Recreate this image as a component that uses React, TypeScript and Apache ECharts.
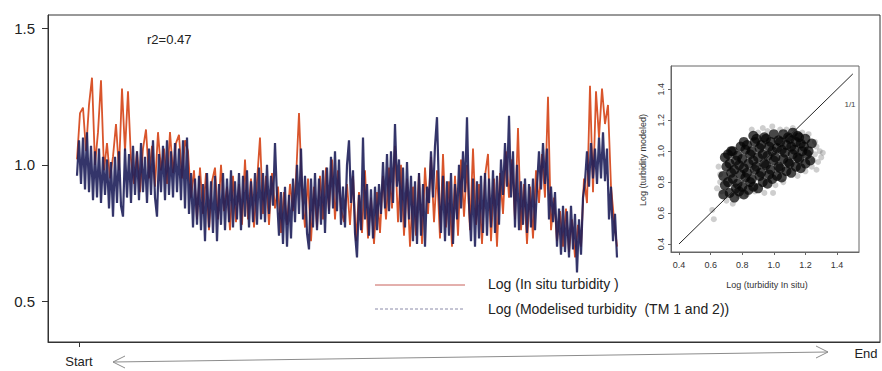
import React, { useEffect, useRef } from "react";
import * as echarts from "echarts";

// In situ series, one value every 3 time units
const inSitu = [
  1.02, 1.19, 1.21, 1.05, 1.22, 1.32, 1.0, 1.12, 1.31, 0.98,
  1.08, 0.95, 1.03, 1.15, 0.98, 1.28, 1.05, 1.27, 1.02, 0.93,
  1.05, 0.9, 1.06, 1.13, 0.95, 1.07, 0.92, 1.12, 0.98, 1.06,
  0.93, 1.12, 0.97, 1.08, 1.11, 0.95, 1.09, 1.05, 0.88, 0.98,
  0.8, 0.99, 0.82, 0.97, 0.76, 0.94, 0.99, 0.8, 1.0, 0.83,
  0.92, 0.76, 0.96, 0.79, 0.93, 0.78, 1.02, 0.8, 0.95, 0.77,
  0.94, 1.1, 0.82, 0.96, 0.78, 0.97, 0.84, 0.92, 0.75, 0.9,
  0.78, 0.93, 0.83, 0.95, 1.19, 0.9, 0.77, 0.95, 0.72, 0.92,
  0.77, 0.96, 0.8, 0.99, 0.83, 1.02, 0.8, 0.98, 0.84, 0.79,
  0.93, 0.78, 0.96, 0.72, 0.9, 0.75, 0.98, 0.73, 0.88, 0.71,
  0.9, 0.75, 0.96, 0.8, 0.99, 0.84, 1.07, 0.79, 1.0, 0.74,
  0.95, 0.7, 0.92, 0.74, 0.97, 0.71, 0.99, 0.82, 1.03, 0.79,
  0.98, 0.73, 1.04, 0.77, 0.94, 0.7, 0.96, 0.74, 1.02, 0.81,
  1.0, 0.76, 1.06, 0.78, 0.93, 0.71, 0.96, 1.04, 0.72, 0.95,
  0.7, 0.97, 0.82, 1.05, 0.88, 1.02, 0.8, 1.135, 0.76, 0.93,
  0.71, 0.92, 0.73, 0.98, 0.86, 1.04, 0.88, 1.25, 0.76, 0.88,
  0.72, 0.83, 0.7, 0.84, 0.68, 0.8, 0.66, 0.78, 0.7, 0.95,
  0.86, 1.29, 0.9, 1.27, 1.1, 1.28, 1.15, 1.22, 0.92, 0.8, 0.7,
];

// Modelled series, one value every 2 time units
const modelled = [
  0.96, 1.09, 0.93, 1.1, 0.91, 1.12, 0.9, 1.07, 0.87, 1.05,
  0.88, 1.06, 0.86, 1.03, 0.89, 1.02, 0.84, 1.01, 0.81, 1.03,
  0.86, 1.05, 0.85, 0.81, 1.06, 0.88, 1.04, 0.86, 1.07, 0.89,
  1.05, 0.87, 1.08, 0.9, 1.03, 0.86, 1.06, 0.89, 1.09, 0.88,
  0.81, 1.04, 0.9, 1.07, 0.87, 1.09, 0.89, 1.05, 0.88, 1.08,
  0.9, 1.06, 0.87, 1.09, 0.84, 1.1, 0.82, 0.97, 0.77, 0.95,
  0.78, 0.96, 0.76, 0.93, 0.72, 0.97, 0.77, 0.94, 0.75, 0.96,
  0.72, 0.93, 0.78, 0.97, 0.76, 0.95, 0.79, 0.98, 0.77, 0.94,
  0.8, 0.97, 0.76, 0.96, 0.81, 0.98, 0.77, 0.94, 0.79, 0.97,
  0.78, 0.99, 0.8, 0.97, 0.79, 1.0, 0.82, 0.96, 0.85, 1.08,
  0.88, 0.74, 0.9, 0.71, 0.92, 0.7, 0.89, 0.73, 0.95, 0.79,
  1.0, 0.82, 1.06, 0.8, 0.96, 0.75, 0.69, 0.95, 0.77, 0.97,
  0.76, 0.95, 0.78, 0.98, 0.75, 0.99, 0.82, 1.03, 0.84, 1.05,
  0.83, 1.02, 0.78, 0.92, 0.77, 1.0, 1.09, 0.86, 0.98, 0.75,
  0.66, 0.89, 0.76, 1.1, 0.8, 0.93, 0.74, 0.91, 0.73, 0.92,
  0.76, 0.93, 0.82, 1.01, 0.84, 1.04, 0.83, 1.05, 0.86, 1.15,
  0.92, 1.02, 0.79, 0.99, 0.77, 1.01, 0.8, 0.96, 0.72, 0.94,
  0.71, 0.97, 0.74, 0.93, 0.7, 0.92, 0.86, 1.05, 0.88, 1.07,
  1.175, 0.9, 0.75, 0.96, 0.72, 0.94, 0.74, 0.97, 0.71, 0.93,
  0.8, 1.0, 0.84, 1.05, 0.9, 1.175, 0.86, 0.72, 0.95, 0.7,
  0.94, 0.73, 0.96, 0.75, 0.97, 0.74, 0.95, 0.77, 0.98, 0.75,
  0.96, 0.78, 1.02, 0.89, 1.08, 0.92, 1.18, 0.88, 1.05, 0.77,
  1.0, 0.76, 0.94, 0.78, 0.95, 0.75, 0.93, 0.77, 0.95, 0.76,
  0.92, 1.05, 0.91, 1.08, 0.93, 1.06, 0.8, 0.92, 0.79, 0.9,
  0.7, 0.84, 0.67, 0.85, 0.68, 0.83, 0.66, 0.85, 0.69, 0.82,
  0.605, 0.8, 0.67, 0.88, 0.94, 1.05, 0.92, 1.08, 0.95, 1.06,
  0.93, 1.1, 0.95, 1.12, 0.94, 1.06, 0.8, 0.92, 0.72, 0.82, 0.66,
];
const inSituStep = 3;
const modelledStep = 2;
const seriesStart = -2;

// Inset scatter: dense core
const coreX = [
  0.68, 0.69, 0.68, 0.7, 0.69,
  0.72, 0.71, 0.73, 0.72, 0.71, 0.73,
  0.75, 0.76, 0.74, 0.75, 0.76, 0.74,
  0.78, 0.77, 0.79, 0.78, 0.77, 0.79,
  0.81, 0.8, 0.82, 0.81, 0.8, 0.82, 0.81,
  0.84, 0.85, 0.83, 0.84, 0.85, 0.83,
  0.87, 0.86, 0.88, 0.87, 0.86, 0.88, 0.87,
  0.9, 0.91, 0.89, 0.9, 0.91, 0.89,
  0.93, 0.92, 0.94, 0.93, 0.92, 0.94,
  0.96, 0.97, 0.95, 0.96, 0.97, 0.95,
  0.99, 0.98, 1.0, 0.99, 0.98, 1.0,
  1.02, 1.03, 1.01, 1.02, 1.03,
  1.05, 1.04, 1.06, 1.05, 1.04, 1.06,
  1.08, 1.09, 1.07, 1.08, 1.09,
  1.11, 1.1, 1.12, 1.11, 1.1, 1.12,
  1.14, 1.15, 1.13, 1.14, 1.15,
  1.17, 1.16, 1.18, 1.17, 1.16,
  1.2, 1.21, 1.19, 1.2,
  1.23, 1.22, 1.24,
];
const coreY = [
  0.72, 0.78, 0.84, 0.9, 0.96,
  0.73, 0.8, 0.86, 0.92, 0.98, 1.0,
  0.7, 0.76, 0.82, 0.88, 0.94, 1.0,
  0.74, 0.79, 0.85, 0.91, 0.97, 1.03,
  0.72, 0.77, 0.83, 0.89, 0.95, 1.01, 1.06,
  0.75, 0.8, 0.86, 0.92, 0.98, 1.04,
  0.77, 0.82, 0.88, 0.94, 1.0, 1.06, 1.1,
  0.76, 0.84, 0.9, 0.96, 1.02, 1.08,
  0.8, 0.86, 0.92, 0.98, 1.04, 1.09,
  0.79, 0.85, 0.91, 0.97, 1.03, 1.08,
  0.82, 0.88, 0.94, 1.0, 1.06, 1.11,
  0.84, 0.9, 0.96, 1.02, 1.07,
  0.83, 0.89, 0.95, 1.01, 1.06, 1.11,
  0.87, 0.93, 0.99, 1.04, 1.09,
  0.86, 0.92, 0.98, 1.03, 1.08, 1.12,
  0.9, 0.96, 1.01, 1.06, 1.1,
  0.89, 0.95, 1.0, 1.05, 1.09,
  0.92, 0.98, 1.03, 1.08,
  0.94, 1.0, 1.05,
];
// Inset scatter: scattered grey fringe and outliers
const outX = [
  1.26, 1.28, 1.3, 1.27, 1.24, 1.29, 0.93, 0.86, 0.99, 1.04, 0.65, 0.66, 0.61, 0.62,
  0.805, 0.995, 0.94, 0.7, 0.74, 1.15, 1.18, 1.22, 1.25, 1.31, 1.26, 0.9, 0.96,
  1.08, 1.12, 0.67, 0.66, 0.78, 0.83, 0.88, 1.01, 1.06, 1.2, 1.27, 0.64,
];
const outY = [
  0.98, 0.93, 0.96, 1.03, 0.9, 1.0, 1.15, 1.14, 1.16, 1.14, 0.9, 0.85, 0.62, 0.56,
  0.74, 0.73, 0.73, 0.68, 0.66, 0.84, 1.12, 1.11, 0.94, 0.99, 1.06, 1.12, 1.13,
  1.14, 1.15, 0.74, 0.8, 0.71, 0.72, 0.74, 0.78, 0.8, 0.87, 0.88, 0.76,
];

const mainYTicks = [0.5, 1.0, 1.5];
const timeTicks = [0, 787];
const insetTicks = [0.4, 0.6, 0.8, 1.0, 1.2, 1.4];
const oneToOne = [0.4, 1.5];

const FONT = "Liberation Sans, Arial, Helvetica, sans-serif";

export default function App() {
  const ref = useRef<HTMLDivElement>(null);
  useEffect(() => {
    if (!ref.current) return;
    const chart = echarts.init(ref.current, undefined, { renderer: "svg" });
    const option: any = {
      animation: false,
      backgroundColor: "#ffffff",
      textStyle: { fontFamily: FONT },
      grid: [
        { left: 48, top: 15, width: 832, height: 327, show: true, borderColor: "#333", borderWidth: 1, containLabel: false },
        { left: 671, top: 66, width: 188, height: 186, show: true, borderColor: "#666", borderWidth: 1, backgroundColor: "#fff", containLabel: false },
      ],
      xAxis: [
        {
          type: "value", gridIndex: 0, min: -31, max: 801,
          axisLine: { show: true, onZero: false, lineStyle: { color: "#333" } },
          axisTick: { show: true, customValues: [timeTicks[0]], length: 5, lineStyle: { color: "#333" } },
          axisLabel: { show: true, customValues: [timeTicks[0]], formatter: () => "Start", margin: 13, fontSize: 13, color: "#222", fontFamily: FONT },
          splitLine: { show: false },
        },
        {
          type: "value", gridIndex: 1, min: 0.349, max: 1.539,
          axisLine: { show: true, onZero: false, lineStyle: { color: "#666" } },
          axisTick: { show: true, customValues: insetTicks, length: 3, lineStyle: { color: "#666" } },
          axisLabel: { show: true, customValues: insetTicks, formatter: (v: number) => v.toFixed(1), margin: 8, fontSize: 9, color: "#333", fontFamily: FONT },
          splitLine: { show: false },
        },
      ],
      yAxis: [
        {
          type: "value", gridIndex: 0, min: 0.35, max: 1.55,
          axisLine: { show: true, onZero: false, lineStyle: { color: "#333" } },
          axisTick: { show: true, customValues: mainYTicks, length: 6, lineStyle: { color: "#333" } },
          axisLabel: { show: true, customValues: mainYTicks, formatter: (v: number) => v.toFixed(1), margin: 13, fontSize: 15, color: "#222", fontFamily: FONT },
          splitLine: { show: false },
        },
        {
          type: "value", gridIndex: 1, min: 0.348, max: 1.551,
          axisLine: { show: true, onZero: false, lineStyle: { color: "#666" } },
          axisTick: { show: true, customValues: insetTicks, length: 3, lineStyle: { color: "#666" } },
          axisLabel: { show: true, customValues: insetTicks, rotate: 90, formatter: (v: number) => v.toFixed(1), margin: 6, fontSize: 9, color: "#333", fontFamily: FONT },
          splitLine: { show: false },
        },
      ],
      series: [
        {
          type: "line", xAxisIndex: 0, yAxisIndex: 0, z: 2,
          data: inSitu.map((v, i) => [seriesStart + i * inSituStep, v]),
          showSymbol: false, symbol: "none",
          lineStyle: { color: "#d9552c", width: 1.8 },
        },
        {
          type: "line", xAxisIndex: 0, yAxisIndex: 0, z: 3,
          data: modelled.map((v, i) => [seriesStart + i * modelledStep, v]),
          showSymbol: false, symbol: "none",
          lineStyle: { color: "#1e1f5a", width: 2.2, opacity: 0.9 },
        },
        {
          type: "scatter", xAxisIndex: 1, yAxisIndex: 1, z: 3,
          data: outX.map((x, i) => [x, outY[i]]),
          symbolSize: 6,
          itemStyle: { color: "rgba(80,80,80,0.35)" },
        },
        {
          type: "scatter", xAxisIndex: 1, yAxisIndex: 1, z: 4,
          data: coreX.map((x, i) => [x, coreY[i]]),
          symbolSize: 10,
          itemStyle: { color: "rgba(5,5,5,0.92)" },
        },
        {
          type: "line", xAxisIndex: 1, yAxisIndex: 1, z: 5,
          data: oneToOne.map((v) => [v, v]),
          showSymbol: false, symbol: "none",
          lineStyle: { color: "#222", width: 1 },
        },
      ],
      graphic: [
        { type: "text", left: 147, top: 33, style: { text: "r2=0.47", font: `13px ${FONT}`, fill: "#222" } },
        { type: "line", shape: { x1: 375, y1: 285, x2: 465, y2: 285 }, style: { stroke: "#c8605a", lineWidth: 1 } },
        { type: "line", shape: { x1: 375, y1: 309, x2: 465, y2: 309 }, style: { stroke: "#8a8aa8", lineWidth: 1, lineDash: [3, 2] } },
        { type: "text", left: 488, top: 277, style: { text: "Log (In situ turbidity )", font: `14px ${FONT}`, fill: "#222" } },
        { type: "text", left: 488, top: 302, style: { text: "Log (Modelised turbidity  (TM 1 and 2))", font: `14px ${FONT}`, fill: "#222" } },
        { type: "text", x: 767, y: 285, style: { text: "Log (turbidity In situ)", font: `9px ${FONT}`, fill: "#333", align: "center", verticalAlign: "middle" } },
        { type: "text", x: 643, y: 160, rotation: Math.PI / 2, style: { text: "Log (turbidity modeled)", font: `9px ${FONT}`, fill: "#333", align: "center", verticalAlign: "middle" } },
        { type: "text", x: 850, y: 104, style: { text: "1/1", font: `8px ${FONT}`, fill: "#444", align: "center", verticalAlign: "middle" } },
        { type: "text", x: 866, y: 353, style: { text: "End", font: `13px ${FONT}`, fill: "#222", align: "center", verticalAlign: "middle" } },
        { type: "line", shape: { x1: 113, y1: 362, x2: 828, y2: 352 }, style: { stroke: "#8c8c8c", lineWidth: 1 } },
        { type: "polyline", shape: { points: [[125, 356], [113, 362], [125, 368]] }, style: { stroke: "#8c8c8c", lineWidth: 1, fill: "none" } },
        { type: "polyline", shape: { points: [[816, 346], [828, 352], [816, 358]] }, style: { stroke: "#8c8c8c", lineWidth: 1, fill: "none" } },
      ],
    };
    chart.setOption(option);
    return () => chart.dispose();
  }, []);
  return <div ref={ref} style={{ position: "fixed", left: 0, top: 0, width: 882, height: 371 }} />;
}
